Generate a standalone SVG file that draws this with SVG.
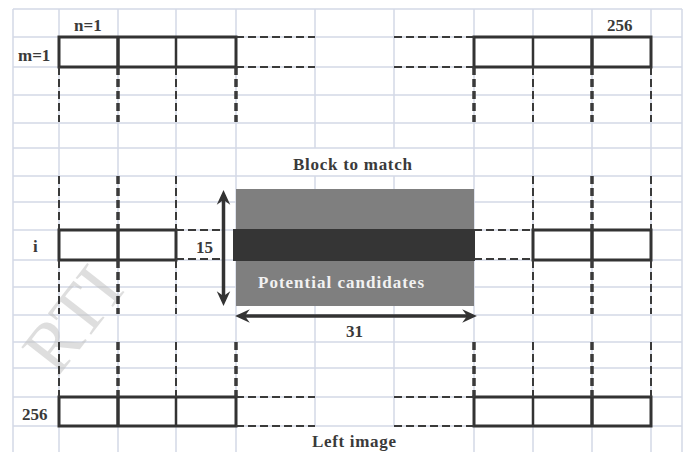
<svg xmlns="http://www.w3.org/2000/svg" width="684" height="452" viewBox="0 0 684 452">
  <style>
    .grid { stroke: #d3d9e6; stroke-width: 1.5; fill: none; }
    .box { stroke: #333; stroke-width: 3; fill: none; }
    .div-a { stroke: #333; stroke-width: 3.5; }
    .div-b { stroke: #333; stroke-width: 2.5; }
    .dash-h { stroke: #3a3a3a; stroke-width: 2; stroke-dasharray: 8 4; fill: none; }
    .dash-a { stroke: #3a3a3a; stroke-width: 3.5; stroke-dasharray: 8 4; fill: none; }
    .dash-b { stroke: #3a3a3a; stroke-width: 2; stroke-dasharray: 8 4; fill: none; }
    .lbl { font-family: "Liberation Serif", "DejaVu Serif", serif; font-weight: bold; font-size: 17px; fill: #3a3a3a; }
    .arrow { stroke: #333; stroke-width: 3.5; fill: none; marker-start: url(#head); marker-end: url(#head); }
  </style>
  <defs>
    <marker id="head" viewBox="0 0 12 12" refX="8" refY="6" markerWidth="4.2" markerHeight="4.2" orient="auto-start-reverse" markerUnits="strokeWidth">
      <path d="M0,0.5 L12,6 L0,11.5 L4,6 z" fill="#333"/>
    </marker>
  </defs>

  <rect width="684" height="452" fill="#fff"/>

  <!-- spreadsheet grid -->
  <g id="grid" class="grid">
    <path d="M13,9H682 M13,37H682 M13,67H682 M13,95H682 M13,123H682 M13,148H682 M13,176H682 M13,202H682 M13,230H682 M13,260H682 M13,287H682 M13,315H682 M13,342H682 M13,368H682 M13,397H682 M13,426H682"/>
    <path d="M13,9V452 M59,9V452 M118,9V452 M176,9V452 M236,9V452 M474,9V452 M533,9V452 M592,9V452 M651,9V452 M682,9V452"/>
    <path d="M315,9V148 M315,176V426 M394,9V148 M394,176V426"/>
  </g>

  <!-- watermark -->
  <text x="0" y="0" transform="translate(126,290) rotate(-52)" text-anchor="end" font-family="Liberation Serif, serif" font-size="72" fill="#c4c4c4" opacity="0.55">RTI</text>

  <!-- pixel row m=1 -->
  <g id="row-top">
    <rect class="box" x="59" y="37" width="177" height="30"/>
    <line class="div-a" x1="118" y1="37" x2="118" y2="67"/>
    <line class="div-b" x1="176" y1="37" x2="176" y2="67"/>
    <rect class="box" x="474" y="37" width="177" height="30"/>
    <line class="div-a" x1="592" y1="37" x2="592" y2="67"/>
    <line class="div-b" x1="533" y1="37" x2="533" y2="67"/>
  </g>

  <!-- pixel row i -->
  <g id="row-i">
    <rect class="box" x="59" y="230" width="117" height="30"/>
    <line class="div-a" x1="118" y1="230" x2="118" y2="260"/>
    <rect class="box" x="533" y="230" width="118" height="30"/>
    <line class="div-a" x1="592" y1="230" x2="592" y2="260"/>
  </g>

  <!-- pixel row 256 -->
  <g id="row-bottom">
    <rect class="box" x="59" y="397" width="177" height="29"/>
    <line class="div-a" x1="118" y1="397" x2="118" y2="426"/>
    <line class="div-b" x1="176" y1="397" x2="176" y2="426"/>
    <rect class="box" x="474" y="397" width="177" height="29"/>
    <line class="div-a" x1="592" y1="397" x2="592" y2="426"/>
    <line class="div-b" x1="533" y1="397" x2="533" y2="426"/>
  </g>

  <!-- search window -->
  <g id="search-block">
    <rect x="236" y="189" width="238" height="117" fill="#7f7f7f"/>
    <rect x="233" y="229" width="242" height="32" fill="#353535"/>
    <text class="lbl" x="258" y="288" style="fill:#f2f2f2" textLength="166" lengthAdjust="spacing">Potential  candidates</text>
  </g>

  <!-- dashed continuation lines and dimension arrows -->
  <g id="connectors">
    <path class="dash-h" d="M236,37H315 M236,67H315 M394,37H474 M394,67H474 M176,230H222 M176,259H222 M474,230H533 M474,259H533 M236,397H315 M236,426H315 M394,397H474 M394,426H474"/>
    <path class="dash-b" d="M59,67V122 M176,67V122 M533,67V122 M651,67V122 M59,176V230 M176,176V230 M533,176V230 M651,176V230 M59,260V314 M176,260V314 M533,260V314 M651,260V314 M59,342V397 M176,342V397 M533,342V397 M651,342V397"/>
    <path class="dash-a" d="M118,67V122 M236,67V122 M474,67V122 M592,67V122 M118,176V230 M592,176V230 M118,260V314 M592,260V314 M118,342V397 M236,342V397 M474,342V397 M592,342V397"/>
    <line class="arrow" x1="223.5" y1="195" x2="223.5" y2="301"/>
    <line class="arrow" x1="240" y1="316" x2="472" y2="316"/>
  </g>

  <!-- labels -->
  <g id="labels">
    <text class="lbl" x="74" y="31">n=1</text>
    <text class="lbl" x="607" y="31">256</text>
    <text class="lbl" x="18" y="61">m=1</text>
    <text class="lbl" x="33" y="252">i</text>
    <text class="lbl" x="22" y="420">256</text>
    <text class="lbl" x="293" y="170" textLength="119" lengthAdjust="spacing">Block to match</text>
    <text class="lbl" x="196" y="253">15</text>
    <text class="lbl" x="346" y="337">31</text>
    <text class="lbl" x="312" y="447" textLength="84" lengthAdjust="spacing">Left image</text>
  </g>
</svg>
